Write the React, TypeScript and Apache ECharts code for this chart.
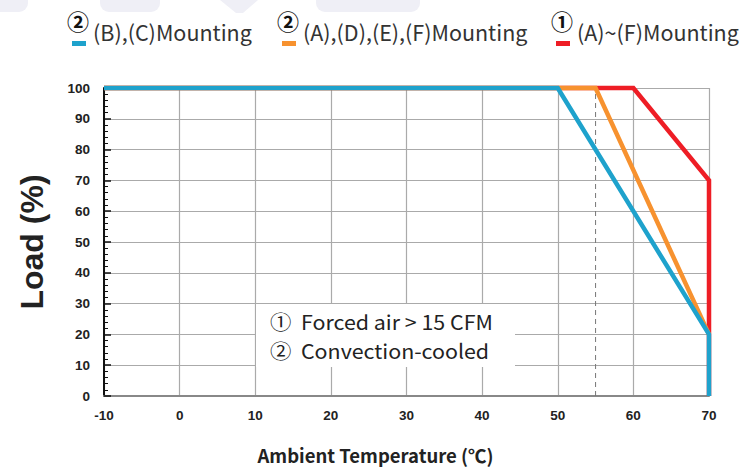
import React, { useEffect, useRef } from "react";
import * as echarts from "echarts";

const seriesNames = ["(B),(C)Mounting", "(A),(D),(E),(F)Mounting", "(A)~(F)Mounting"];
const seriesMarks = ["②", "②", "①"];
const seriesColors = ["#1ea2cc", "#f7922f", "#ee1d25"];
const blueData: [number, number][] = [[-10, 100], [50, 100], [70, 20], [70, 0]];
const orangeData: [number, number][] = [[-10, 100], [55, 100], [70, 20]];
const redData: [number, number][] = [[-10, 100], [60, 100], [70, 70], [70, 0]];
const dashedX = 55;
const notes = ["①  Forced air > 15 CFM", "②  Convection-cooled"];
const xName = "Ambient Temperature (℃)";
const yName = "Load (%)";

const CJK = '"Noto Sans CJK SC", "Noto Sans", sans-serif';
const ARIAL = '"Liberation Sans", Arial, sans-serif';

export default function App() {
  const ref = useRef<HTMLDivElement>(null);
  useEffect(() => {
    if (!ref.current) return;
    const chart = echarts.init(ref.current, undefined, { renderer: "svg" });
    const legendX = [67, 277, 551];
    const legendGraphics: any[] = [];
    seriesNames.forEach((n, i) => {
      legendGraphics.push({
        type: "text", left: legendX[i], top: 9,
        style: { text: seriesMarks[i], font: `bold 22px ${CJK}`, fill: "#111" },
      });
      legendGraphics.push({
        type: "rect", shape: { x: legendX[i] + 5, y: 41, width: 14, height: 5 },
        style: { fill: seriesColors[i] },
      });
      legendGraphics.push({
        type: "text", left: legendX[i] + 26, top: 21,
        style: { text: n, font: `21.5px ${CJK}`, fill: "#333" },
      });
    });
    const bgShapes: any[] = [
      { type: "rect", shape: { x: -20, y: -12, width: 48, height: 24, r: 9 }, style: { fill: "#efeff6" } },
      { type: "rect", shape: { x: 100, y: -12, width: 60, height: 24, r: 9 }, style: { fill: "#efeff6" } },
      { type: "polygon", shape: { points: [[220, 0], [258, 0], [243, 13], [236, 13]] }, style: { fill: "#efeff6" } },
      { type: "rect", shape: { x: 316, y: -12, width: 104, height: 24, r: 9 }, style: { fill: "#efeff6" } },
    ];
    const noteY = [321.5, 350.5];
    const noteGraphics: any[] = [
      { type: "rect", shape: { x: 256, y: 304, width: 259, height: 63 }, style: { fill: "#fff" }, z: 10 },
      ...notes.map((t, i) => ({
        type: "text", x: 270, y: noteY[i], scaleX: 1.07, z: 11,
        style: { text: t, font: `20px ${CJK}`, fill: "#222", verticalAlign: "middle", align: "left" },
      })),
    ];
    const mk = (i: number, data: [number, number][], z: number) => ({
      type: "line",
      name: seriesNames[i],
      data,
      symbol: "none",
      clip: false,
      z,
      lineStyle: { color: seriesColors[i], width: 4.5, cap: "butt", join: "miter" },
    });
    chart.setOption({
      animation: false,
      grid: { left: 104, right: 40, top: 88, bottom: 72, outerBoundsMode: "none", containLabel: false },
      xAxis: {
        type: "value", min: -10, max: 70, interval: 10,
        name: xName, nameLocation: "middle", nameGap: 50,
        nameTextStyle: { fontFamily: CJK, fontWeight: "bold", fontSize: 18.5, color: "#222", padding: [0, 62, 0, 0] },
        axisLine: { show: true, onZero: false, lineStyle: { color: "#888", width: 2 } },
        axisTick: { show: false },
        axisLabel: { fontFamily: ARIAL, fontWeight: "bold", fontSize: 13.5, color: "#222", margin: 12 },
        splitLine: { show: true, lineStyle: { color: "#aaa", width: 1.2 } },
      },
      yAxis: {
        type: "value", min: 0, max: 100, interval: 10,
        name: yName, nameLocation: "middle", nameGap: 56, nameRotate: 90,
        nameTextStyle: { fontFamily: ARIAL, fontWeight: "bold", fontSize: 32, color: "#222" },
        axisLine: { show: true, onZero: false, lineStyle: { color: "#111", width: 2 } },
        axisTick: { show: true, inside: true, length: 7, lineStyle: { color: "#111", width: 1.5 } },
        minorTick: { show: true, splitNumber: 5, length: 4, lineStyle: { color: "#111", width: 1 } },
        axisLabel: { fontFamily: ARIAL, fontWeight: "bold", fontSize: 13.5, color: "#222", margin: 14 },
        splitLine: { show: true, lineStyle: { color: "#aaa", width: 1.2 } },
      },
      series: [
        {
          type: "line", data: [[dashedX, 0], [dashedX, 100]], symbol: "none", z: 1,
          lineStyle: { color: "#777", width: 1, type: [5, 4] },
        },
        mk(2, redData, 2),
        mk(1, orangeData, 3),
        mk(0, blueData, 4),
      ],
      graphic: [...bgShapes, ...legendGraphics, ...noteGraphics],
    });
    return () => chart.dispose();
  }, []);
  return <div ref={ref} style={{ width: 749, height: 468, position: "absolute", left: 0, top: 0 }} />;
}
